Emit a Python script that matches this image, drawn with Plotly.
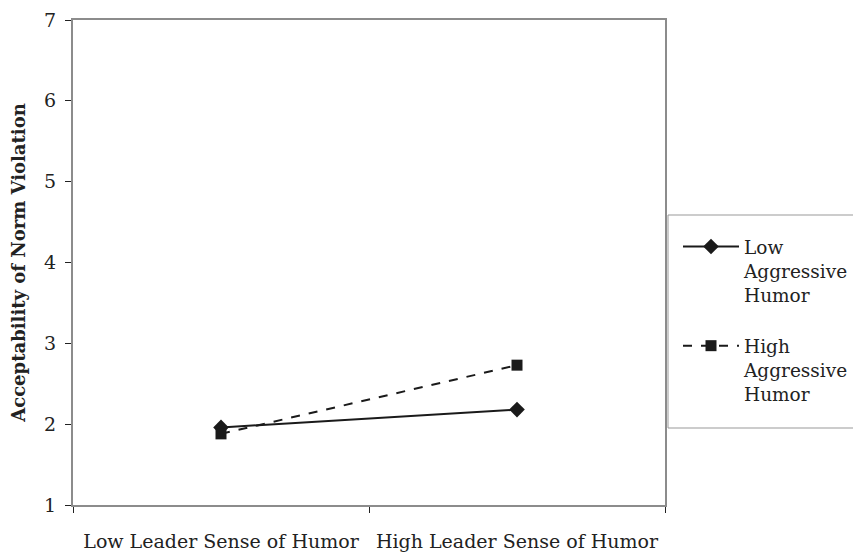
import plotly.graph_objects as go

categories = ["Low Leader Sense of Humor", "High Leader Sense of Humor"]
low_aggressive = [1.96, 2.18]
high_aggressive = [1.88, 2.73]
series_names = ["Low<br>Aggressive<br>Humor", "High<br>Aggressive<br>Humor"]
y_ticks = [1, 2, 3, 4, 5, 6, 7]

FONT = "DejaVu Serif"

fig = go.Figure()
fig.add_trace(go.Scatter(
    x=categories, y=low_aggressive, name=series_names[0], mode="lines+markers",
    legendgroup="a",
    line=dict(color="#1a1a1a", width=2, dash="solid"),
    marker=dict(symbol="diamond", size=12, color="#1a1a1a"),
))
fig.add_trace(go.Scatter(
    x=categories, y=high_aggressive, name=series_names[1], mode="lines+markers",
    legendgroup="b",
    line=dict(color="#1a1a1a", width=2, dash="dash"),
    marker=dict(symbol="square", size=11, color="#1a1a1a"),
))

# page offset (body margin) of 8px
OFF = 8
W, H = 861, 552
L, R, T, B = 73 - OFF, 861 - (665 - OFF), 20 - OFF, H - (505 - OFF)
pw = W - L - R
ph = H - T - B

def px_x(p):
    return (p - OFF - L) / pw

def px_y(p):
    return (H - B - (p - OFF)) / ph

fig.add_shape(type="rect", xref="paper", yref="paper",
              x0=px_x(668), x1=px_x(875), y0=px_y(428), y1=px_y(215),
              line=dict(color="#999999", width=1), fillcolor="rgba(0,0,0,0)")

fig.update_layout(
    width=W, height=H,
    margin=dict(l=L, r=R, t=T, b=B, autoexpand=False),
    paper_bgcolor="white", plot_bgcolor="white",
    font=dict(family=FONT, size=19, color="#222222"),
    showlegend=True,
    legend=dict(
        x=px_x(678), y=px_y(228), xanchor="left", yanchor="top",
        bgcolor="rgba(0,0,0,0)", borderwidth=0, valign="top",
        traceorder="grouped", tracegroupgap=24,
        font=dict(family=FONT, size=18.5, color="#222222"),
        itemwidth=56,
    ),
    xaxis=dict(
        type="category", range=[-0.5, 1.5], tickson="boundaries",
        ticks="outside", ticklen=6, tickcolor="#222222", tickwidth=1,
        showline=True, linecolor="#8c8c8c", linewidth=2, mirror=True,
        showgrid=False, zeroline=False, automargin=False,
        ticklabelstandoff=18, ticklabeloverflow="allow",
        tickfont=dict(family=FONT, size=19, color="#222222"),
    ),
    yaxis=dict(
        range=[1, 7], tickvals=y_ticks,
        ticks="outside", ticklen=6, tickcolor="#222222", tickwidth=1,
        showline=True, linecolor="#8c8c8c", linewidth=2, mirror=True,
        showgrid=False, zeroline=False, automargin=False,
        ticklabelstandoff=5, ticklabeloverflow="allow",
        tickfont=dict(family=FONT, size=19, color="#222222"),
        title=dict(text="<b>Acceptability of Norm Violation</b>",
                   font=dict(family=FONT, size=18, color="#222222"), standoff=16),
    ),
)

fig.write_html("out.html")
